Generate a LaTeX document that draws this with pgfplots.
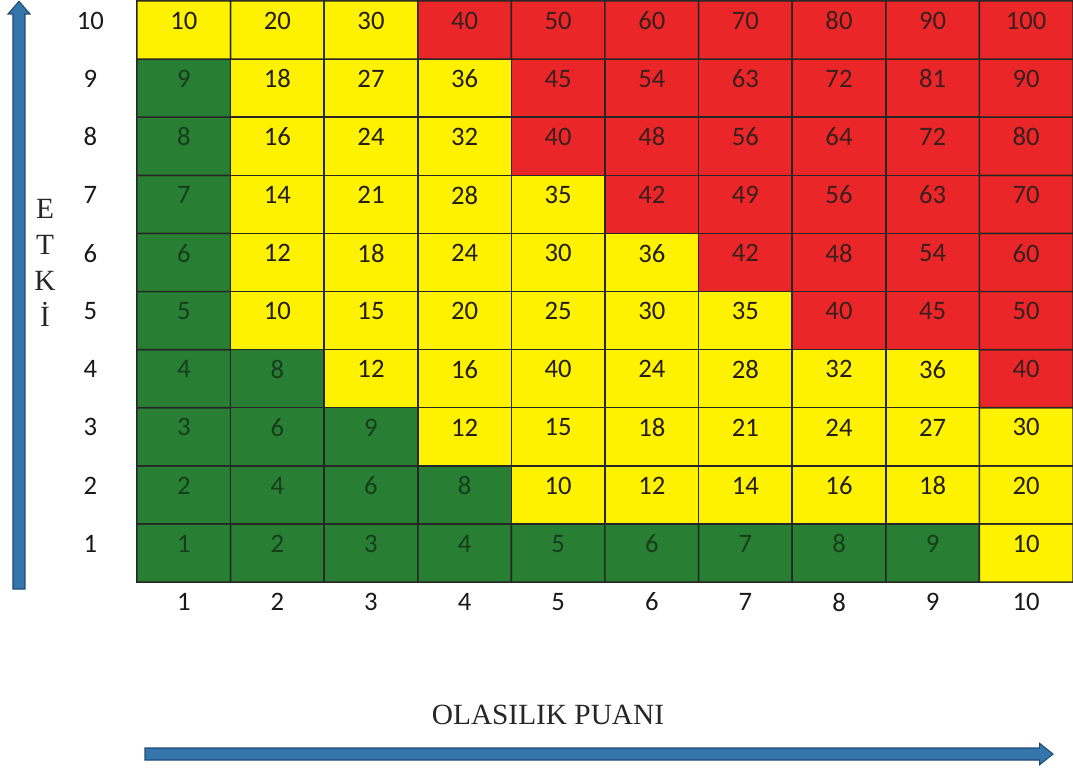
\documentclass[border=0pt]{standalone}
\usepackage{pgfplots}
\pgfplotsset{compat=1.18}
\usepackage{pgfplotstable}
\usepackage{fontspec}
\setmainfont{Carlito}
\newfontfamily\serif{Liberation Serif}
\definecolor{arrowfill}{RGB}{52,118,172}
\definecolor{arrowdraw}{RGB}{30,75,115}
\definecolor{tgreen}{RGB}{22,62,28}
\definecolor{tyellow}{RGB}{35,30,20}
\definecolor{tred}{RGB}{60,30,30}
\pgfplotsset{colormap={risk}{rgb255(0)=(40,126,50) rgb255(0.9)=(40,126,50) rgb255(1.1)=(255,242,0) rgb255(1.9)=(255,242,0) rgb255(2.1)=(234,38,40) rgb255(3)=(234,38,40)}}
\pgfplotstableread{
x y c
1 1 0.5
2 1 0.5
3 1 0.5
4 1 0.5
5 1 0.5
6 1 0.5
7 1 0.5
8 1 0.5
9 1 0.5
10 1 1.5
1 2 0.5
2 2 0.5
3 2 0.5
4 2 0.5
5 2 1.5
6 2 1.5
7 2 1.5
8 2 1.5
9 2 1.5
10 2 1.5
1 3 0.5
2 3 0.5
3 3 0.5
4 3 1.5
5 3 1.5
6 3 1.5
7 3 1.5
8 3 1.5
9 3 1.5
10 3 1.5
1 4 0.5
2 4 0.5
3 4 1.5
4 4 1.5
5 4 1.5
6 4 1.5
7 4 1.5
8 4 1.5
9 4 1.5
10 4 2.5
1 5 0.5
2 5 1.5
3 5 1.5
4 5 1.5
5 5 1.5
6 5 1.5
7 5 1.5
8 5 2.5
9 5 2.5
10 5 2.5
1 6 0.5
2 6 1.5
3 6 1.5
4 6 1.5
5 6 1.5
6 6 1.5
7 6 2.5
8 6 2.5
9 6 2.5
10 6 2.5
1 7 0.5
2 7 1.5
3 7 1.5
4 7 1.5
5 7 1.5
6 7 2.5
7 7 2.5
8 7 2.5
9 7 2.5
10 7 2.5
1 8 0.5
2 8 1.5
3 8 1.5
4 8 1.5
5 8 2.5
6 8 2.5
7 8 2.5
8 8 2.5
9 8 2.5
10 8 2.5
1 9 0.5
2 9 1.5
3 9 1.5
4 9 1.5
5 9 2.5
6 9 2.5
7 9 2.5
8 9 2.5
9 9 2.5
10 9 2.5
1 10 1.5
2 10 1.5
3 10 1.5
4 10 2.5
5 10 2.5
6 10 2.5
7 10 2.5
8 10 2.5
9 10 2.5
10 10 2.5
}\cells
\begin{document}
\begin{tikzpicture}
\begin{axis}[
  at={(0pt,0pt)}, anchor=south west,
  scale only axis, width=702pt, height=435.75pt,
  xmin=0.5, xmax=10.5, ymin=0.5, ymax=10.5,
  enlargelimits=false,
  xtick={1,...,10}, ytick={1,...,10},
  major tick length=0pt,
  axis line style={black!85, line width=1.1pt},
  /pgf/number format/assume math mode=true,
  ticklabel style={font=\fontsize{20}{24}\selectfont, text=black!90},
  xticklabel style={anchor=center, yshift=-15pt},
  yticklabel style={anchor=center, xshift=-35pt, yshift=7pt},
  colormap name=risk,
  point meta min=0, point meta max=3,
  every node near coord/.append style={anchor=center, yshift=7pt, font=\fontsize{20}{24}\selectfont},
]
\addplot[matrix plot*, mesh/ordering=x varies, mesh/cols=10, point meta=explicit, draw=black!85, line width=1.1pt] table[x=x, y=y, meta=c] {\cells};
\addplot[draw=none, mark=none, point meta=explicit symbolic, nodes near coords={\pgfplotspointmeta}, every node near coord/.append style={text=tgreen}] coordinates {
(1,1)[1] (2,1)[2] (3,1)[3] (4,1)[4] (5,1)[5] (6,1)[6] (7,1)[7] (8,1)[8] (9,1)[9]
(1,2)[2] (2,2)[4] (3,2)[6] (4,2)[8]
(1,3)[3] (2,3)[6] (3,3)[9]
(1,4)[4] (2,4)[8]
(1,5)[5] (1,6)[6] (1,7)[7] (1,8)[8] (1,9)[9]
};
\addplot[draw=none, mark=none, point meta=explicit symbolic, nodes near coords={\pgfplotspointmeta}, every node near coord/.append style={text=tyellow}] coordinates {
(10,1)[10]
(5,2)[10] (6,2)[12] (7,2)[14] (8,2)[16] (9,2)[18] (10,2)[20]
(4,3)[12] (5,3)[15] (6,3)[18] (7,3)[21] (8,3)[24] (9,3)[27] (10,3)[30]
(3,4)[12] (4,4)[16] (5,4)[40] (6,4)[24] (7,4)[28] (8,4)[32] (9,4)[36]
(2,5)[10] (3,5)[15] (4,5)[20] (5,5)[25] (6,5)[30] (7,5)[35]
(2,6)[12] (3,6)[18] (4,6)[24] (5,6)[30] (6,6)[36]
(2,7)[14] (3,7)[21] (4,7)[28] (5,7)[35]
(2,8)[16] (3,8)[24] (4,8)[32]
(2,9)[18] (3,9)[27] (4,9)[36]
(1,10)[10] (2,10)[20] (3,10)[30]
};
\addplot[draw=none, mark=none, point meta=explicit symbolic, nodes near coords={\pgfplotspointmeta}, every node near coord/.append style={text=tred}] coordinates {
(10,4)[40]
(8,5)[40] (9,5)[45] (10,5)[50]
(7,6)[42] (8,6)[48] (9,6)[54] (10,6)[60]
(6,7)[42] (7,7)[49] (8,7)[56] (9,7)[63] (10,7)[70]
(5,8)[40] (6,8)[48] (7,8)[56] (8,8)[64] (9,8)[72] (10,8)[80]
(5,9)[45] (6,9)[54] (7,9)[63] (8,9)[72] (9,9)[81] (10,9)[90]
(4,10)[40] (5,10)[50] (6,10)[60] (7,10)[70] (8,10)[80] (9,10)[90] (10,10)[100]
};
\end{axis}
% arrows
\filldraw[fill=arrowfill, draw=arrowdraw, line width=0.8pt]
  (-93pt,-5.25pt) -- (-93pt,426pt) -- (-96.75pt,426pt) -- (-88.5pt,435.5pt) -- (-80.25pt,426pt) -- (-84pt,426pt) -- (-84pt,-5.25pt) -- cycle;
\filldraw[fill=arrowfill, draw=arrowdraw, line width=0.8pt]
  (6pt,-124.5pt) -- (677pt,-124.5pt) -- (677pt,-121pt) -- (687pt,-129pt) -- (677pt,-137pt) -- (677pt,-133.5pt) -- (6pt,-133.5pt) -- cycle;
\node[font=\serif\fontsize{22}{27}\selectfont, align=center, text=black!85] at (-69pt,239.5pt) {E\\T\\K\\İ};
\node[font=\serif\fontsize{22}{27}\selectfont, text=black!85] at (308.25pt,-99.75pt) {OLASILIK PUANI};
\pgfresetboundingbox
\path[use as bounding box] (-102.75pt,-141.75pt) rectangle (702pt,436.5pt);
\end{tikzpicture}
\end{document}
